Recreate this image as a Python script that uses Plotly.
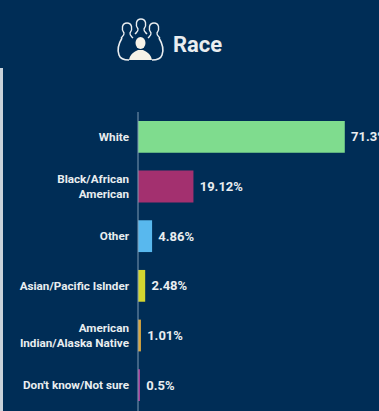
import plotly.graph_objects as go

categories = ["White", "Black/African<br>American", "Other", "Asian/Pacific Islnder",
              "American<br>Indian/Alaska Native", "Don't know/Not sure"]
values = [71.3, 19.12, 4.86, 2.48, 1.01, 0.5]
value_labels = ["\u00a071.3%", "\u00a019.12%", "\u00a04.86%", "\u00a02.48%", "\u00a01.01%", "\u00a00.5%"]
bar_colors = ["#7fdc8e", "#a3306f", "#58b8ee", "#d3d530", "#d9a63e", "#a23c96"]

W, H = 379, 411
ML, MR, MT, MB = 138, 0, 112, 1
BG = "#002d56"
INK = "#e9edf0"


def px(x):
    return (x - ML) / (W - ML - MR)


def py(y):
    return 1 - (y - MT) / (H - MT - MB)


def curve(start, *segments):
    d = f"M{px(start[0]):.4f},{py(start[1]):.4f}"
    for c1, c2, end in segments:
        d += (f" C{px(c1[0]):.4f},{py(c1[1]):.4f} {px(c2[0]):.4f},{py(c2[1]):.4f}"
              f" {px(end[0]):.4f},{py(end[1]):.4f}")
    return d


def back_figure(cx, top):
    # Head and neck of an outlined figure, open at the shoulders
    return curve((cx - 6, top + 15),
                 ((cx - 4, top + 13), (cx - 2.5, top + 12), (cx - 3, top + 10)),
                 ((cx - 6, top + 6), (cx - 5, top), (cx, top)),
                 ((cx + 5, top), (cx + 6, top + 6), (cx + 3, top + 10)),
                 ((cx + 2.5, top + 12), (cx + 4, top + 13), (cx + 6, top + 15)))


def outline_shape(d, width=1.4):
    return dict(type="path", xref="paper", yref="paper", path=d,
                line=dict(color=INK, width=width))


# Header icon: three outlined figures behind one solid figure
icon = [
    outline_shape(back_figure(127, 23)),
    outline_shape(back_figure(141, 19)),
    outline_shape(back_figure(154, 23)),
    outline_shape(curve((122, 38), ((119, 43), (117, 50), (119, 55)), ((120, 58), (124, 60), (129, 60))), 1.6),
    outline_shape(curve((159, 38), ((162, 43), (164, 50), (162, 55)), ((161, 58), (157, 60), (152, 60))), 1.6),
    dict(type="circle", xref="paper", yref="paper",
         x0=px(135.5), x1=px(145.5), y0=py(49), y1=py(37),
         fillcolor="#f7f3e8", line=dict(width=0)),
    dict(type="path", xref="paper", yref="paper",
         path=curve((129, 60), ((130, 54), (134, 52), (138, 50)), ((140, 50), (142, 50), (143, 50)),
                    ((147, 52), (151, 54), (152, 60))) + " Z",
         fillcolor="#f7f3e8", line=dict(width=0)),
]

# Left edge strip below the header
edge = dict(type="rect", xref="paper", yref="paper",
            x0=px(0), x1=px(3), y0=py(411), y1=py(68),
            fillcolor="#c9d2da", line=dict(width=0))
axis_line = dict(type="line", xref="paper", yref="paper",
                 x0=0, x1=0, y0=py(411), y1=py(112),
                 line=dict(color="#7f9bb3", width=1))

fig = go.Figure(go.Bar(
    y=categories,
    x=values,
    orientation="h",
    width=0.64,
    marker=dict(color=bar_colors, line=dict(width=0)),
    text=value_labels,
    textposition="outside",
    cliponaxis=False,
    constraintext="none",
    textfont=dict(family="Roboto", size=13, color=INK, weight="bold"),
    hoverinfo="skip",
))

fig.update_layout(
    width=W, height=H,
    margin=dict(l=ML, r=MR, t=MT, b=MB, pad=0),
    paper_bgcolor=BG,
    plot_bgcolor=BG,
    showlegend=False,
    shapes=icon + [edge, axis_line],
    annotations=[dict(text="<b>Race</b>", xref="paper", yref="paper",
                      x=px(170.5), y=py(44), xanchor="left", yanchor="middle",
                      showarrow=False,
                      font=dict(family="Roboto", size=22, color=INK))],
    xaxis=dict(range=[0, 83.1], visible=False),
    yaxis=dict(autorange="reversed", showline=False, showgrid=False, zeroline=False,
               ticks="", ticklabelstandoff=8,
               tickfont=dict(family="Roboto", size=11.7, color=INK, weight="bold")),
)

fig.write_html("out.html", config=dict(displayModeBar=False))
